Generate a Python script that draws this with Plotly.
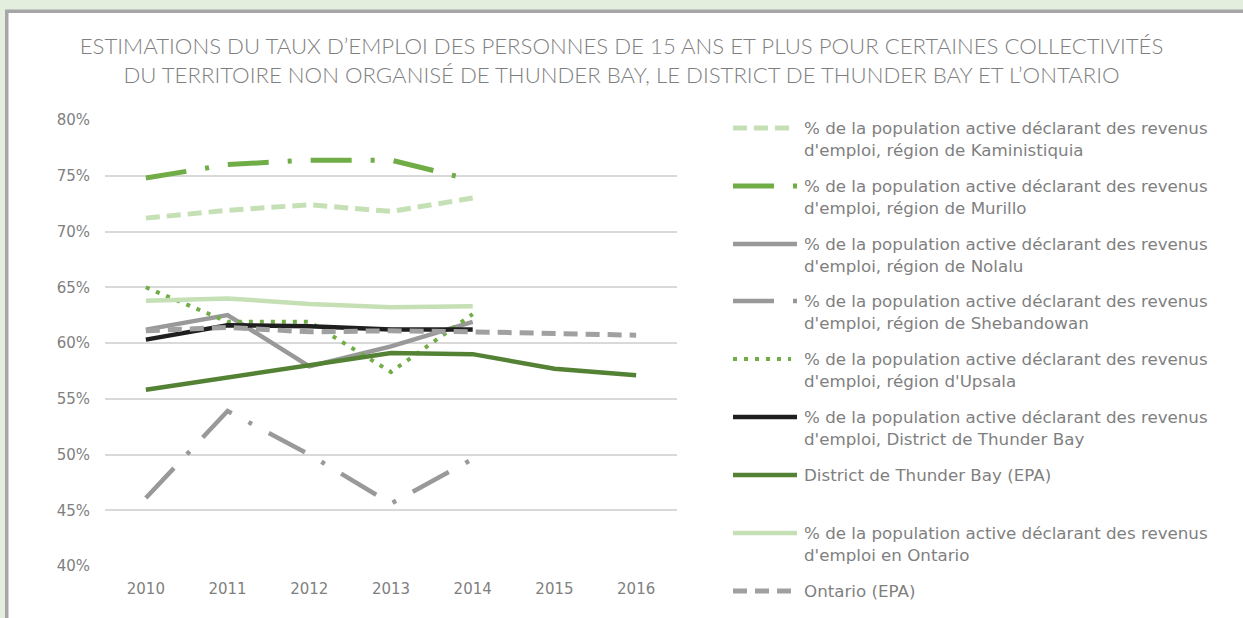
import plotly.graph_objects as go

years = [2010, 2011, 2012, 2013, 2014, 2015, 2016]
kaministiquia = [71.2, 71.9, 72.4, 71.8, 73.0, None, None]
murillo = [74.8, 76.0, 76.4, 76.4, 74.6, None, None]
nolalu = [61.2, 62.5, 57.9, 59.7, 61.9, None, None]
shebandowan = [46.1, 53.9, 50.0, 45.6, 49.6, None, None]
upsala = [65.0, 61.9, 61.9, 57.4, 62.6, None, None]
district_tb = [60.3, 61.6, 61.5, 61.2, 61.2, None, None]
district_epa = [55.8, 56.9, 58.0, 59.1, 59.0, 57.7, 57.1]
ontario_income = [63.8, 64.0, 63.5, 63.2, 63.3, None, None]
ontario_epa = [61.1, 61.4, 61.0, 61.1, 61.0, 60.8, 60.7]

y_ticks = [40, 45, 50, 55, 60, 65, 70, 75, 80]
y_tick_labels = [f"{v}%" for v in y_ticks]

title_text = ("ESTIMATIONS DU TAUX D’EMPLOI DES PERSONNES DE 15 ANS ET PLUS POUR CERTAINES COLLECTIVITÉS<br>"
              "DU TERRITOIRE NON ORGANISÉ DE THUNDER BAY, LE DISTRICT DE THUNDER BAY ET L’ONTARIO")

LIGHT_GREEN = "#c5e0b4"
GREEN = "#70ad47"
DARK_GREEN = "#548235"
GRAY = "#999999"
BLACK = "#1e1e1e"
TEXT = "#7f7f7f"
FONT = "DejaVu Sans"
TITLE_FONT = "Lato"

# (values, label lines, color, width, dash)
series = [
    (kaministiquia, ["% de la population active déclarant des revenus", "d'emploi, région de Kaministiquia"], LIGHT_GREEN, 5, "14px,7px"),
    (murillo, ["% de la population active déclarant des revenus", "d'emploi, région de Murillo"], GREEN, 5, "41px,19px,4px,19px"),
    (nolalu, ["% de la population active déclarant des revenus", "d'emploi, région de Nolalu"], GRAY, 4.5, "solid"),
    (shebandowan, ["% de la population active déclarant des revenus", "d'emploi, région de Shebandowan"], GRAY, 4.5, "41px,19px,4px,19px"),
    (upsala, ["% de la population active déclarant des revenus", "d'emploi, région d'Upsala"], GREEN, 4, "4px,7px"),
    (district_tb, ["% de la population active déclarant des revenus", "d'emploi, District de Thunder Bay"], BLACK, 4.5, "solid"),
    (district_epa, ["District de Thunder Bay (EPA)"], DARK_GREEN, 4.5, "solid"),
    (ontario_income, ["% de la population active déclarant des revenus", "d'emploi en Ontario"], LIGHT_GREEN, 4.5, "solid"),
    (ontario_epa, ["Ontario (EPA)"], "#a0a0a0", 5, "14px,8px"),
]

W, H = 1243, 618
L, R, T, B = 105, 677, 120, 566


def px(x):
    return (x - L) / (R - L)


def py(y):
    return (B - y) / (B - T)


fig = go.Figure()
for vals, lines, color, width, dash in series:
    fig.add_trace(go.Scatter(
        x=years, y=vals, mode="lines", name=" ".join(lines),
        line=dict(color=color, width=width, dash=dash),
        connectgaps=False, showlegend=False, hoverinfo="skip"))

shapes = [
    dict(type="rect", xref="paper", yref="paper", x0=px(-5), x1=px(W + 5), y0=py(H + 5), y1=py(-5),
         fillcolor="#e3eedf", line=dict(width=0), layer="below"),
    dict(type="rect", xref="paper", yref="paper", x0=px(5), x1=px(W + 5), y0=py(H + 5), y1=py(9.5),
         fillcolor="#a6a6a6", line=dict(width=0), layer="below"),
    dict(type="rect", xref="paper", yref="paper", x0=px(8.5), x1=px(W + 5), y0=py(H + 5), y1=py(13),
         fillcolor="#ffffff", line=dict(width=0), layer="below"),
]
annotations = []
legend_rows = [128, 186, 244, 301, 359, 417, 475, 533, 591]
for (vals, lines, color, width, dash), yrow in zip(series, legend_rows):
    x1 = 797 if dash in ("solid", "41px,19px,4px,19px") else 791
    shapes.append(dict(type="line", xref="paper", yref="paper",
                       x0=px(733), x1=px(x1), y0=py(yrow), y1=py(yrow),
                       line=dict(color=color, width=width, dash=dash)))
    for i, t in enumerate(lines):
        annotations.append(dict(xref="paper", yref="paper", x=px(802), y=py(yrow + i * 21.5),
                                xanchor="left", yanchor="middle", showarrow=False, text=t,
                                font=dict(family=FONT, size=16.7, color=TEXT)))

fig.update_layout(
    width=W, height=H,
    margin=dict(l=L, r=W - R, t=T, b=H - B),
    paper_bgcolor="#ffffff", plot_bgcolor="rgba(0,0,0,0)",
    title=dict(text=title_text, x=0.5, xref="container", xanchor="center",
               y=1 - 54 / H, yref="container", yanchor="middle",
               font=dict(family=TITLE_FONT, size=22.2, color=TEXT, weight=300)),
    xaxis=dict(range=[2009.5, 2016.5], tickmode="array", tickvals=years,
               ticktext=[str(y) for y in years], showgrid=False, zeroline=False,
               showline=False, ticks="", tickfont=dict(family=FONT, size=15, color=TEXT),
               ticklabelstandoff=12),
    yaxis=dict(range=[40, 80], tickmode="array", tickvals=y_ticks, ticktext=y_tick_labels,
               showgrid=True, gridcolor="#d9d9d9", gridwidth=1.5, zeroline=False,
               showline=False, ticks="", tickfont=dict(family=FONT, size=15, color=TEXT),
               ticklabelstandoff=14),
    shapes=shapes, annotations=annotations, showlegend=False,
)

fig.write_html("out.html", config={"displayModeBar": False},
               post_script="document.body.style.margin='0';document.body.style.overflow='hidden';")
